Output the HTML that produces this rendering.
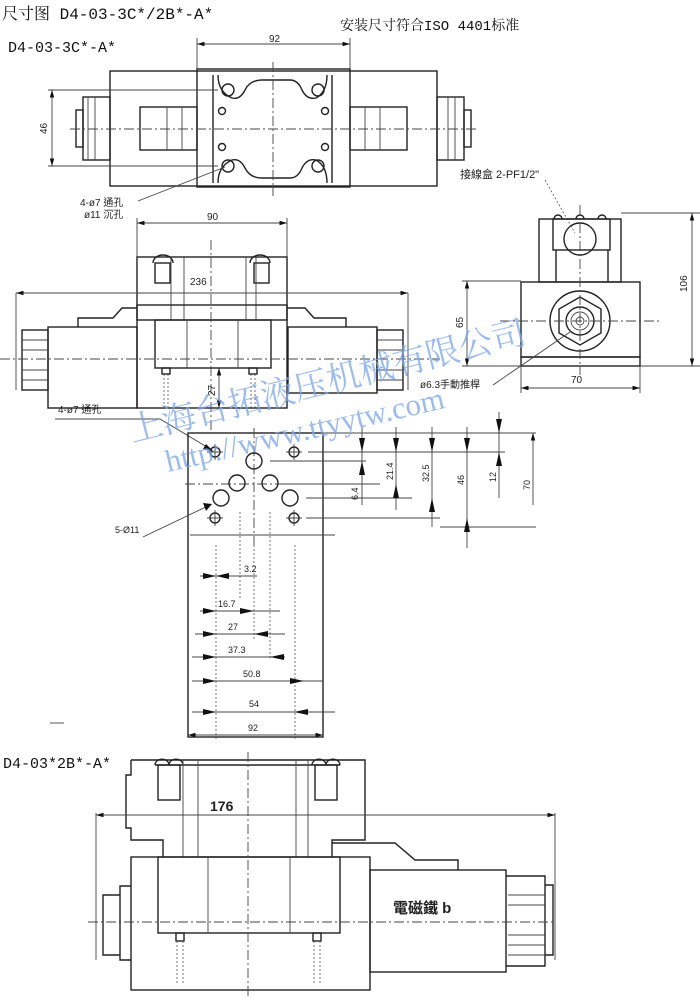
<!DOCTYPE html>
<html><head><meta charset="utf-8"><style>
html,body{margin:0;padding:0;background:#fff;width:700px;height:997px;overflow:hidden}
svg{display:block}
text{font-family:"Liberation Sans","Noto Sans CJK TC",sans-serif;fill:#222}
.s{font-family:"Liberation Mono","Noto Serif CJK SC",monospace;fill:#111}
.l{fill:none;stroke:#222;stroke-width:1.4}
.t{fill:none;stroke:#444;stroke-width:0.9}
.c{fill:none;stroke:#444;stroke-width:0.9;stroke-dasharray:10 3 2 3}
.d{fill:none;stroke:#555;stroke-width:0.8;stroke-dasharray:2 2}
.w{fill:#7aa6ec;font-family:"Liberation Serif","Noto Serif CJK SC",serif}
</style></head><body>
<svg width="700" height="997" viewBox="0 0 700 997" xmlns="http://www.w3.org/2000/svg">
<defs>
<marker id="a" viewBox="0 0 10 6" refX="10" refY="3" markerWidth="10" markerHeight="5" orient="auto-start-reverse"><path d="M0,0 L10,3 L0,6z" fill="#111"/></marker>
</defs>
<text class="s" x="2" y="19" font-size="16">尺寸图 D4-03-3C*/2B*-A*</text>
<text class="s" x="340" y="30" font-size="14">安装尺寸符合ISO 4401标准</text>
<text class="s" x="8" y="52" font-size="15">D4-03-3C*-A*</text>

<!-- TOP VIEW -->
<path class="t" d="M197,38V69 M350,38V69"/>
<line class="t" x1="197" y1="44" x2="350" y2="44" marker-start="url(#a)" marker-end="url(#a)"/>
<text x="269" y="42" font-size="10">92</text>
<rect class="l" x="110" y="71" width="327" height="115"/>
<rect class="l" x="197" y="69" width="153" height="118" fill="#fff"/>
<rect class="l" x="140" y="107" width="57" height="43"/>
<rect class="l" x="350" y="107" width="57" height="43"/>
<path class="t" d="M167,107V150 M182,107V150 M365,107V150 M380,107V150"/>
<rect class="l" x="83" y="97" width="27" height="63"/><rect class="l" x="76" y="110" width="7" height="37"/>
<rect class="l" x="437" y="97" width="27" height="63"/><rect class="l" x="464" y="110" width="7" height="37"/>
<path class="t" d="M88,97V160 M95,97V160 M455,97V160 M448,97V160"/>
<path class="l" d="M213,75V183 M332,75V183 M218,75 Q218,92 232,98 Q240,100 245,90 Q250,80 262,80 H290 Q298,80 302,90 Q307,100 316,98 Q327,92 327,75"/>
<path class="l" d="M218,183 Q218,166 232,160 Q240,158 245,168 Q250,178 262,178 H290 Q298,178 302,168 Q307,158 316,160 Q327,166 327,183"/>
<g class="l"><circle cx="228" cy="90" r="6"/><circle cx="318" cy="90" r="6"/><circle cx="228" cy="166" r="6"/><circle cx="318" cy="166" r="6"/>
<circle cx="222" cy="111" r="3.5"/><circle cx="325" cy="111" r="3.5"/><circle cx="222" cy="147" r="3.5"/><circle cx="325" cy="147" r="3.5"/></g>
<line class="c" x1="70" y1="129" x2="478" y2="129"/><line class="c" x1="273" y1="62" x2="273" y2="196"/>
<path class="t" d="M48,90H218 M48,166H218"/>
<line class="t" x1="52" y1="90" x2="52" y2="166" marker-start="url(#a)" marker-end="url(#a)"/>
<text x="0" y="0" font-size="10" transform="translate(47,134) rotate(-90)">46</text>
<path class="t" d="M138,201L225,167"/>
<text x="80" y="206" font-size="10">4-ø7 通孔</text>
<text x="84" y="218" font-size="10">ø11 沉孔</text>
<text x="460" y="178" font-size="11">接線盒 2-PF1/2"</text>
<path class="d" d="M545,180L575,233"/>

<!-- FRONT VIEW -->
<path class="t" d="M137,218V305 M287,218V305"/>
<line class="t" x1="137" y1="223" x2="287" y2="223" marker-start="url(#a)" marker-end="url(#a)"/>
<text x="207" y="220" font-size="10">90</text>
<rect class="l" x="137" y="257" width="150" height="63"/>
<rect class="l" x="155" y="263" width="15" height="20"/><rect class="l" x="254" y="263" width="15" height="20"/>
<path class="l" d="M153,263a5,4 0 0 1 20,0 M250,263a5,4 0 0 1 20,0"/>
<path class="t" d="M171,257V320 M184,257V320 M246,257V320 M256,257V320"/>
<text x="190" y="285" font-size="10">236</text>
<path class="t" d="M16,293V390 M408,293V390"/>
<line class="t" x1="16" y1="293" x2="408" y2="293" marker-start="url(#a)" marker-end="url(#a)"/>
<path class="l" d="M78,327V318H113L122,308H137 M287,308H305L314,318H346V327"/>
<rect class="l" x="155" y="320" width="116" height="48"/>
<path class="t" d="M187,320V368 M238,320V368"/>
<rect class="l" x="48" y="327" width="89" height="81"/>
<rect class="l" x="288" y="327" width="89" height="66"/>
<rect class="l" x="137" y="305" width="150" height="103" fill="none"/>
<rect class="l" x="22" y="330" width="26" height="60"/><rect class="l" x="377" y="330" width="26" height="60"/>
<path class="t" d="M22,340H48 M22,350H48 M22,370H48 M22,380H48 M377,340H403 M377,350H403 M377,370H403 M377,380H403"/>
<rect class="l" x="162" y="368" width="8" height="6"/><rect class="l" x="249" y="368" width="8" height="6"/>
<path class="d" d="M164,374V410 M168,374V410 M251,374V410 M255,374V410"/>
<line class="c" x1="0" y1="359" x2="440" y2="359"/><line class="c" x1="211" y1="240" x2="211" y2="430"/>
<line class="t" x1="219" y1="368" x2="219" y2="408" marker-start="url(#a)" marker-end="url(#a)"/>
<text x="0" y="0" font-size="10" transform="translate(215,396) rotate(-90)">27</text>
<text x="58" y="413" font-size="10">4-ø7 通孔</text>
<path class="t" d="M55,419H160L212,450"/>
<path d="M206,444L214,452L203,449z" fill="#111"/>

<!-- RIGHT VIEW -->
<rect class="l" x="539" y="219" width="82" height="63"/>
<rect class="l" x="553" y="219" width="57" height="31"/>
<path class="l" d="M556,250V282 M608,250V282"/>
<circle class="l" cx="580" cy="239" r="16"/>
<path class="l" d="M554,219a4,4 0 0 1 8,0 M576,219a4,4 0 0 1 8,0 M598,219a4,4 0 0 1 8,0"/>
<rect class="l" x="521" y="282" width="119" height="75"/>
<rect class="l" x="521" y="357" width="119" height="9"/>
<circle class="l" cx="580" cy="321" r="30"/>
<path class="l" d="M580,297L601,309V333L580,345L559,333V309Z"/>
<circle class="l" cx="580" cy="321" r="14"/><circle class="t" cx="580" cy="321" r="9"/><circle class="t" cx="580" cy="321" r="4"/>
<path class="c" d="M580,205V375 M500,321H660"/>
<path class="t" d="M621,213H700 M640,366H700 M462,281H521 M462,366H521 M521,366V393 M640,366V393"/>
<line class="t" x1="692" y1="213" x2="692" y2="366" marker-start="url(#a)" marker-end="url(#a)"/>
<text x="0" y="0" font-size="10" transform="translate(687,292) rotate(-90)">106</text>
<line class="t" x1="467" y1="281" x2="467" y2="366" marker-start="url(#a)" marker-end="url(#a)"/>
<text x="0" y="0" font-size="10" transform="translate(463,328) rotate(-90)">65</text>
<line class="t" x1="521" y1="388" x2="640" y2="388" marker-start="url(#a)" marker-end="url(#a)"/>
<text x="571" y="383" font-size="10">70</text>
<text x="420" y="388" font-size="10">ø6.3手動推桿</text>
<path class="t" d="M493,385L570,332"/>

<!-- SUBPLATE -->
<rect class="l" x="188" y="433" width="135" height="304"/>
<line class="c" x1="185" y1="484" x2="336" y2="484"/>
<path class="c" d="M254,428V545"/>
<g class="l"><circle cx="215" cy="452" r="5"/><circle cx="294" cy="452" r="5"/><circle cx="215" cy="518" r="5"/><circle cx="294" cy="518" r="5"/>
<circle cx="254" cy="461" r="8"/><circle cx="237" cy="483" r="8"/><circle cx="270" cy="483" r="8"/><circle cx="221" cy="498" r="8"/><circle cx="290" cy="498" r="8"/></g>
<path class="t" d="M207,452h16M215,444v16M286,452h16M294,444v16M207,518h16M215,510v16M286,518h16M294,510v16"/>
<path class="t" d="M308,452H505 M270,461H366 M278,484H380 M306,498H412 M306,518H440 M190,535H335 M440,527H536 M323,433H536"/>
<line class="t" x1="362" y1="427" x2="362" y2="505"/>
<path d="M359,438L362,452L365,438z M359,475L362,461L365,475z" fill="#111"/>
<text x="0" y="0" font-size="9" transform="translate(358,500) rotate(-90)">6.4</text>
<line class="t" x1="396" y1="427" x2="396" y2="510"/>
<path d="M393,438L396,452L399,438z M393,498L396,484L399,498z" fill="#111"/>
<text x="0" y="0" font-size="9" transform="translate(393,480) rotate(-90)">21.4</text>
<line class="t" x1="432" y1="427" x2="432" y2="527"/>
<path d="M429,438L432,452L435,438z M429,512L432,498L435,512z" fill="#111"/>
<text x="0" y="0" font-size="9" transform="translate(429,482) rotate(-90)">32.5</text>
<line class="t" x1="467" y1="427" x2="467" y2="548"/>
<path d="M464,438L467,452L470,438z M464,532L467,518L470,532z" fill="#111"/>
<text x="0" y="0" font-size="9" transform="translate(464,485) rotate(-90)">46</text>
<line class="t" x1="499" y1="412" x2="499" y2="498"/>
<path d="M496,419L499,433L502,419z M496,466L499,452L502,466z" fill="#111"/>
<text x="0" y="0" font-size="9" transform="translate(496,482) rotate(-90)">12</text>
<line class="t" x1="533" y1="433" x2="533" y2="505" marker-start="url(#a)"/>
<text x="0" y="0" font-size="9" transform="translate(530,490) rotate(-90)">70</text>
<path class="t" d="M143,537L210,505"/><path d="M203,503L212,504L206,511z" fill="#111"/>
<text x="115" y="533" font-size="9">5-Ø11</text>
<path class="d" d="M216,545V740 M240,512V600 M270,512V660 M295,545V740 M254,545V640"/>
<g font-size="9">
<line class="t" x1="200" y1="576" x2="257" y2="576"/><path d="M203,573L216,576L203,579z M229,573L216,576L229,579z" fill="#111"/><text x="244" y="572">3.2</text>
<line class="t" x1="200" y1="611" x2="280" y2="611"/><path d="M203,608L216,611L203,614z M240,608L254,611L240,614z" fill="#111"/><text x="218" y="607">16.7</text>
<line class="t" x1="195" y1="634" x2="285" y2="634"/><path d="M203,631L216,634L203,637z M268,631L254,634L268,637z" fill="#111"/><text x="228" y="630">27</text>
<line class="t" x1="192" y1="657" x2="285" y2="657"/><path d="M203,654L216,657L203,660z M284,654L270,657L284,660z" fill="#111"/><text x="228" y="653">37.3</text>
<line class="t" x1="192" y1="681" x2="323" y2="681"/><path d="M203,678L216,681L203,684z M290,678L304,681L290,684z" fill="#111"/><text x="243" y="677">50.8</text>
<line class="t" x1="192" y1="712" x2="335" y2="712"/><path d="M203,709L216,712L203,715z M308,709L294,712L308,715z" fill="#111"/><text x="249" y="707">54</text>
<line class="t" x1="188" y1="735" x2="323" y2="735" marker-start="url(#a)" marker-end="url(#a)"/><text x="248" y="731">92</text>
</g>
<path class="t" d="M50,723H64"/>

<!-- BOTTOM VIEW -->
<text class="s" x="3" y="768" font-size="15">D4-03*2B*-A*</text>
<path class="l" d="M131,760H365V840H332V857 M131,760V775H126V828H131V840H163V857"/>
<rect class="l" x="158" y="765" width="22" height="35"/><rect class="l" x="315" y="765" width="22" height="35"/>
<path class="l" d="M155,765a6,5 0 0 1 14,0a6,5 0 0 1 14,0 M312,765a6,5 0 0 1 14,0a6,5 0 0 1 14,0 M155,765H340"/>
<path class="t" d="M183,760V857 M198,760V857 M296,760V857 M308,760V857"/>
<path class="t" d="M96,813V960 M555,813V960"/>
<line class="t" x1="96" y1="815" x2="555" y2="815" marker-start="url(#a)" marker-end="url(#a)"/>
<text x="210" y="811" font-size="14" font-weight="bold">176</text>
<rect class="l" x="131" y="857" width="239" height="133"/>
<rect class="l" x="158" y="857" width="182" height="76"/>
<path class="t" d="M208,857V933 M290,857V933"/>
<path class="l" d="M332,843H395L415,860H458V870"/>
<rect class="l" x="370" y="870" width="136" height="102"/>
<path class="l" d="M506,876H545V966H506 M545,885H553V955H545"/>
<path class="t" d="M508,895H545 M508,905H545 M508,935H545 M508,945H545 M508,955H545"/>
<path class="l" d="M131,886H120V960H131 M120,895H103V955H120"/>
<text x="393" y="913" font-size="15" font-weight="bold">電磁鐵 b</text>
<rect class="l" x="176" y="933" width="8" height="8"/><rect class="l" x="313" y="933" width="8" height="8"/>
<path class="d" d="M177,941V985 M183,941V985 M314,941V985 M320,941V985"/>
<line class="c" x1="88" y1="922" x2="556" y2="922"/><line class="c" x1="248" y1="752" x2="248" y2="997"/>

<!-- WATERMARK -->
<text class="w" font-size="34" transform="translate(132,442) rotate(-14)" opacity="0.75">上海台拓液压机械有限公司</text>
<text class="w" font-size="31" transform="translate(168,472) rotate(-13)" opacity="0.75" font-family="Liberation Mono,monospace">http://www.ttyytw.com</text>
</svg>
</body></html>
